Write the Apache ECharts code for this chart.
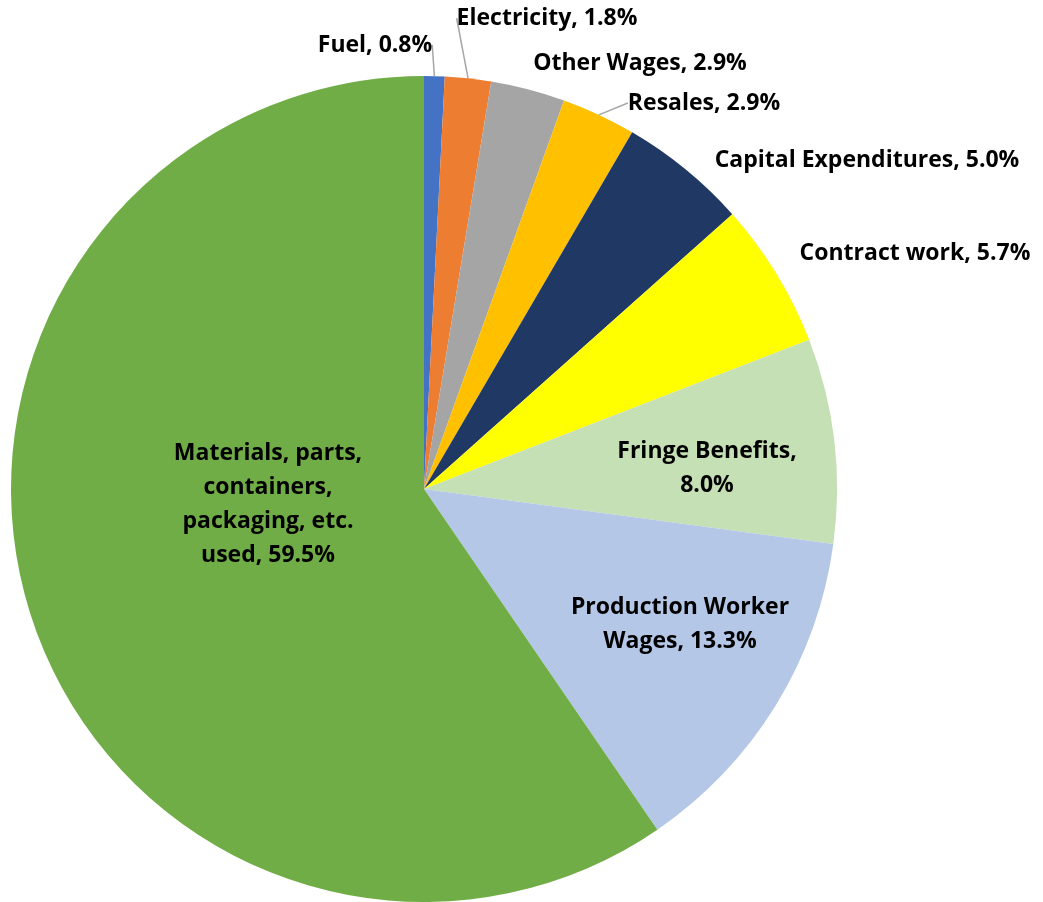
<!DOCTYPE html>
<html>
<head>
<meta charset="utf-8">
<script src="https://cdn.jsdelivr.net/npm/echarts@6/dist/echarts.min.js"></script>
<style>
html,body{margin:0;padding:0;background:#fff;}
#chart{width:1043px;height:902px;}
</style>
</head>
<body>
<div id="chart"></div>
<script>
const categories = ["Fuel", "Electricity", "Other Wages", "Resales", "Capital Expenditures", "Contract work", "Fringe Benefits", "Production Worker Wages", "Materials, parts, containers, packaging, etc. used"];
const values = [0.8, 1.8, 2.9, 2.9, 5.0, 5.7, 8.0, 13.3, 59.5];
const labelText = ["Fuel, 0.8%", "Electricity, 1.8%", "Other Wages, 2.9%", "Resales, 2.9%", "Capital Expenditures, 5.0%", "Contract work, 5.7%", "Fringe Benefits,\n8.0%", "Production Worker\nWages, 13.3%", "Materials, parts,\ncontainers,\npackaging, etc.\nused, 59.5%"];
const colors = ["#4472C4", "#ED7D31", "#A5A5A5", "#FFC000", "#203864", "#FFFF00", "#C5E0B4", "#B4C7E7", "#70AD47"];
const showLine = [true, true, false, true, false, false, false, false, false];
const labelPos = [[375, 45], [547, 18], [640, 63], [704, 103], [867, 160], [915, 253], [707, 468], [680, 624], [268, 504]];

const chart = echarts.init(document.getElementById('chart'), null, {renderer: 'canvas'});
const data = categories.map((c, i) => ({
  name: c,
  value: values[i],
  itemStyle: {color: colors[i]},
  labelLine: {show: showLine[i]}
}));
chart.setOption({
  animation: false,
  series: [{
    type: 'pie',
    center: [424, 489],
    radius: [0, 413],
    startAngle: 90,
    clockwise: true,
    avoidLabelOverlap: false,
    data: data,
    itemStyle: {borderWidth: 0},
    emphasis: {disabled: true},
    label: {
      show: true,
      position: 'outside',
      formatter: p => labelText[p.dataIndex],
      fontFamily: 'Open Sans',
      fontWeight: 'bold',
      fontSize: 23,
      lineHeight: 34,
      color: '#000',
      align: 'center'
    },
    labelLine: {
      lineStyle: {color: '#A6A6A6', width: 1.5},
      length: 0,
      length2: 0,
      smooth: false
    },
    labelLayout: function (params) {
      const p = labelPos[params.dataIndex];
      return {x: p[0], y: p[1], align: 'center', verticalAlign: 'middle'};
    }
  }]
});
</script>
</body>
</html>
